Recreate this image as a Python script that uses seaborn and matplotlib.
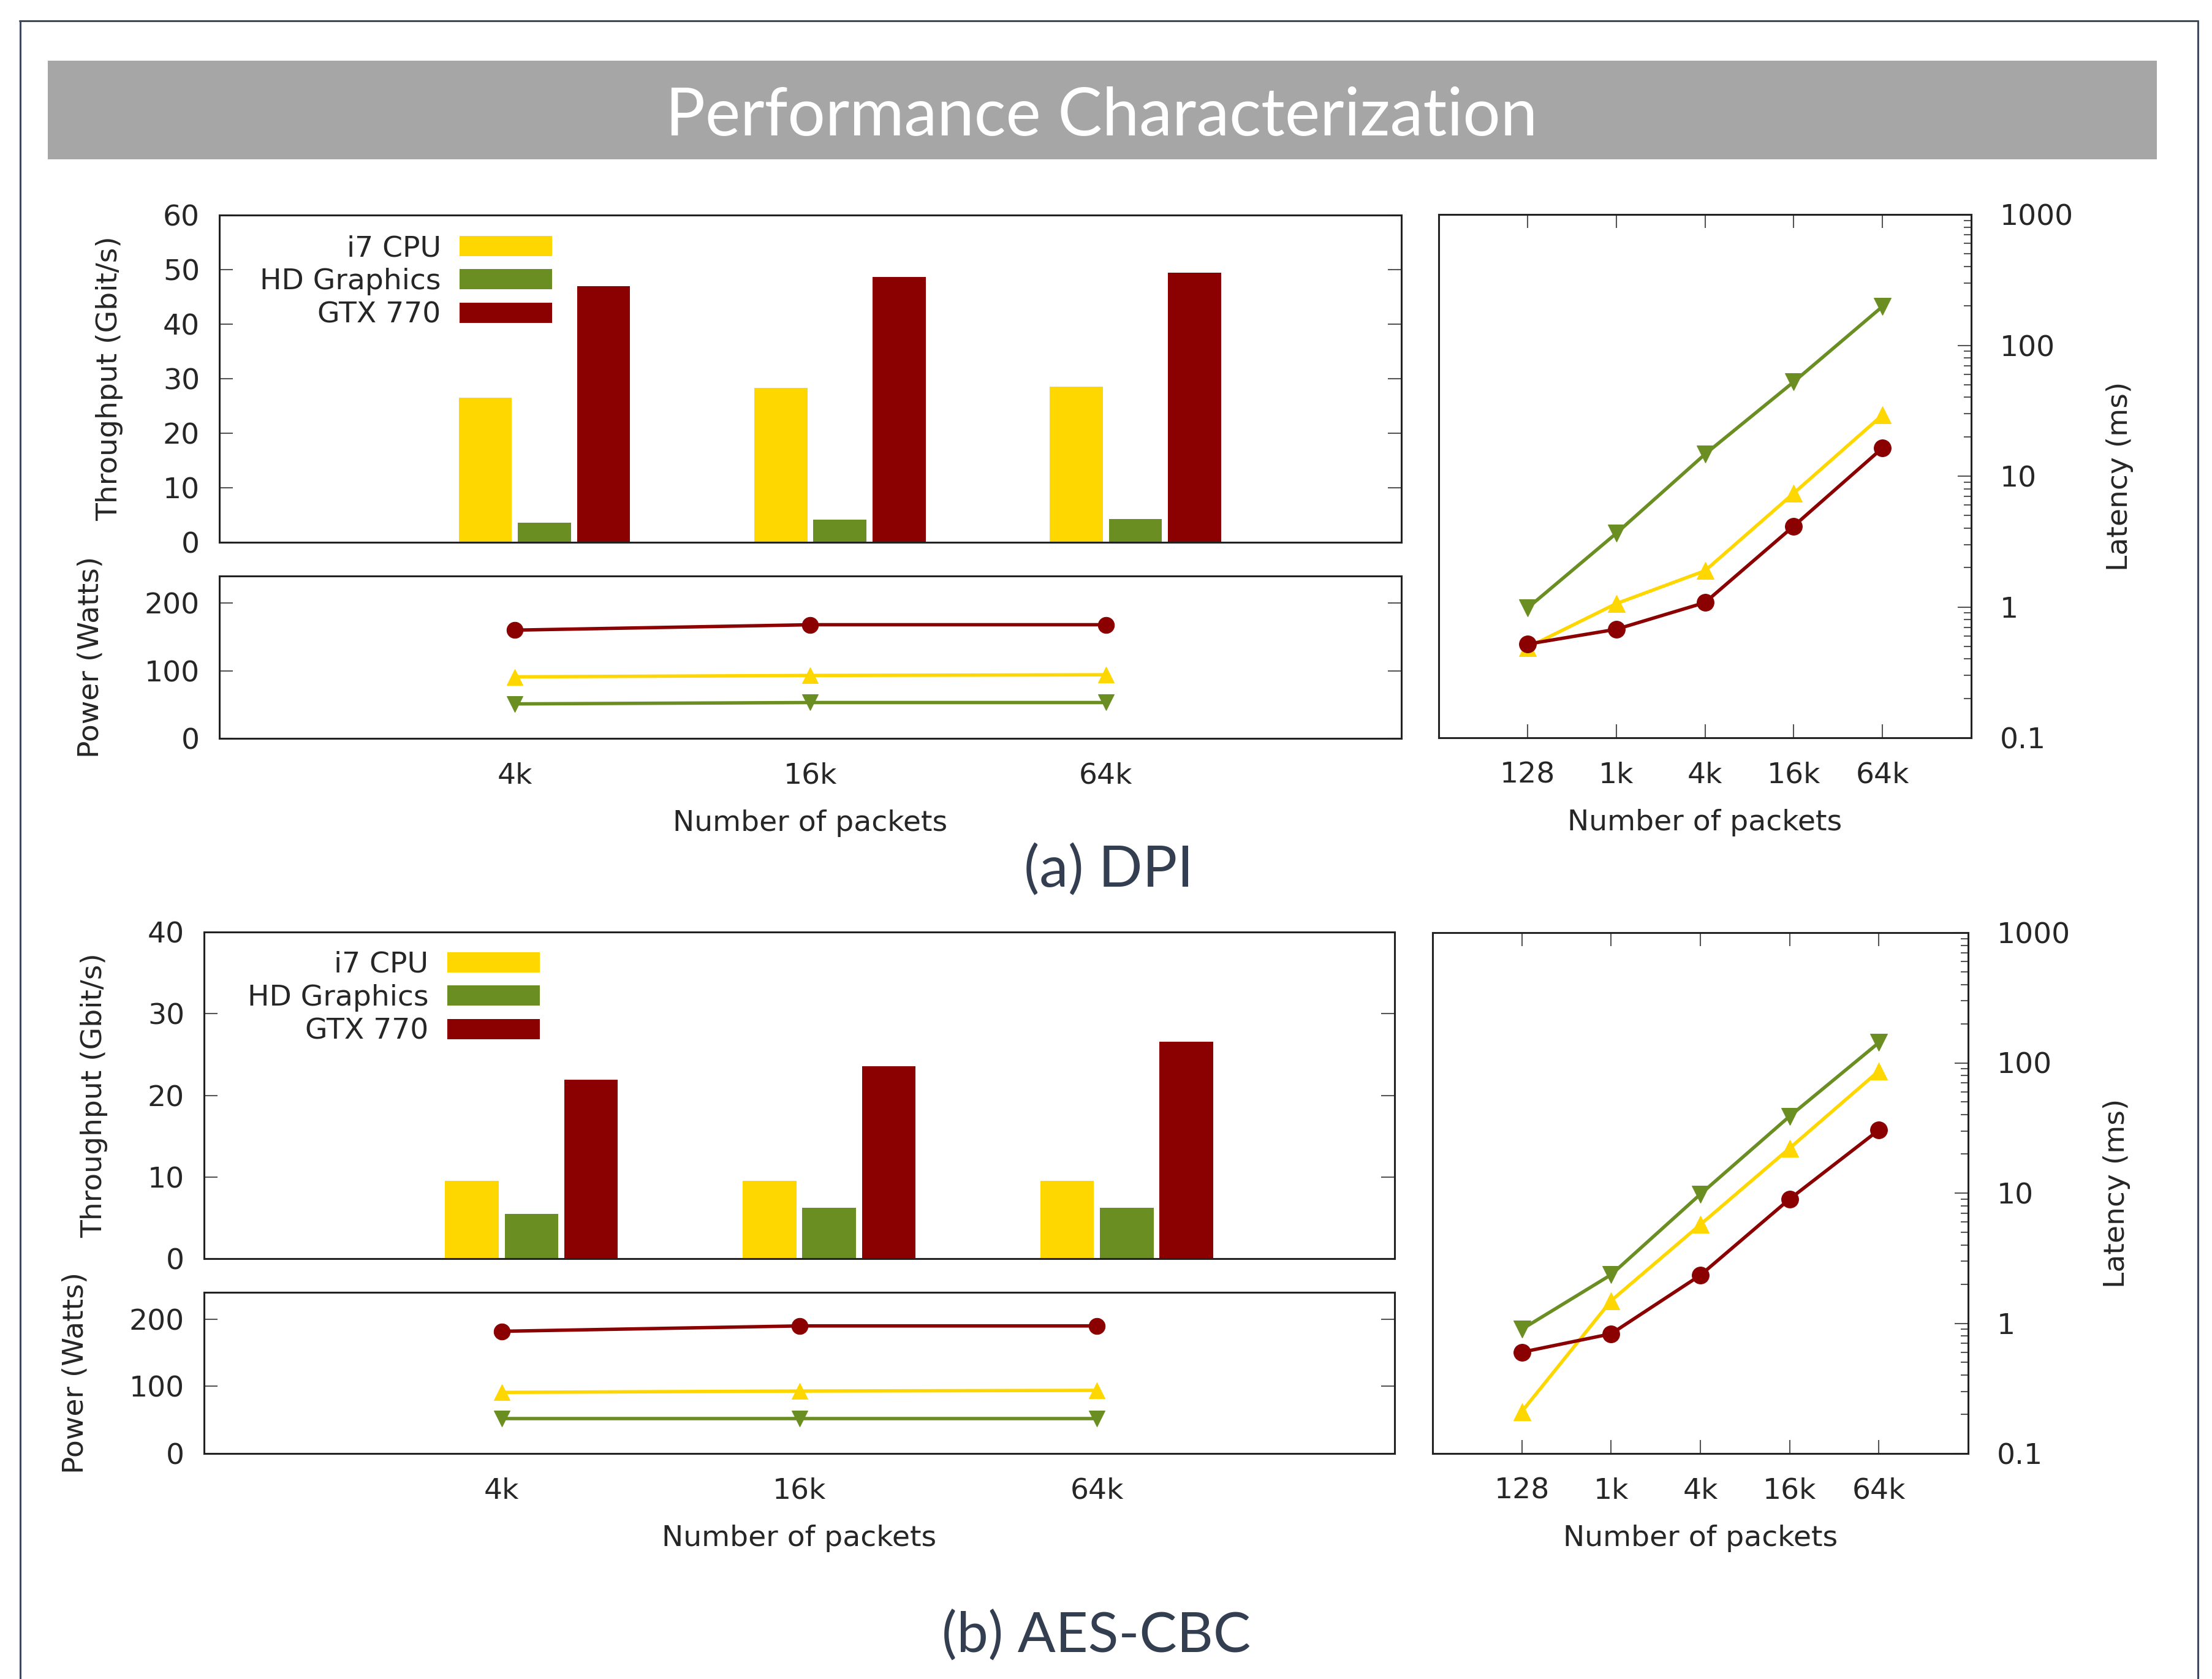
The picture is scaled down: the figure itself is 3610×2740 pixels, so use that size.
import numpy as np
import pandas as pd
import matplotlib
matplotlib.use("Agg")
import matplotlib.pyplot as plt
import seaborn as sns
from matplotlib.patches import Rectangle
from matplotlib.lines import Line2D
from matplotlib.ticker import FixedLocator, FixedFormatter, LogLocator, NullFormatter

# ---------------------------------------------------
# DATA
# ---------------------------------------------------
devices = ["i7 CPU", "HD Graphics", "GTX 770"]
bar_sizes = ["4k", "16k", "64k"]
lat_sizes = ["128", "1k", "4k", "16k", "64k"]

# (a) DPI
dpi_thr_cpu = [26.5, 28.3, 28.5]
dpi_thr_hd = [3.6, 4.2, 4.3]
dpi_thr_gtx = [47.0, 48.7, 49.4]
dpi_pow_cpu = [91, 93, 94]
dpi_pow_hd = [51, 53, 53]
dpi_pow_gtx = [160, 168, 168]
dpi_lat_cpu = [0.49, 1.06, 1.89, 7.4, 29.3]
dpi_lat_hd = [0.98, 3.65, 14.7, 52.5, 198]
dpi_lat_gtx = [0.52, 0.675, 1.08, 4.15, 16.4]

# (b) AES-CBC
aes_thr_cpu = [9.5, 9.5, 9.5]
aes_thr_hd = [5.5, 6.2, 6.2]
aes_thr_gtx = [21.9, 23.6, 26.6]
aes_pow_cpu = [91, 93, 94]
aes_pow_hd = [52, 52, 52]
aes_pow_gtx = [182, 190, 190]
aes_lat_cpu = [0.21, 1.49, 5.73, 22.1, 86.7]
aes_lat_hd = [0.90, 2.36, 9.8, 38.9, 143]
aes_lat_gtx = [0.60, 0.83, 2.34, 9.0, 30.5]

colors = {"i7 CPU": "#FFD700", "HD Graphics": "#6B8E23", "GTX 770": "#8B0000"}
markers = {"i7 CPU": "^", "HD Graphics": "v", "GTX 770": "o"}

# ---------------------------------------------------
# STYLE
# ---------------------------------------------------
sns.set_style("white")
plt.rcParams["font.family"] = ["DejaVu Sans"]
FS = 34
SPINE = "#222222"
TICKC = "#555555"

W, H = 3610, 2740
fig = plt.figure(figsize=(W / 100, H / 100), dpi=100)


def box(x0, y0, x1, y1):
    # pixel box (top-left origin) -> figure fraction rect
    return [x0 / W, 1 - y1 / H, (x1 - x0) / W, (y1 - y0) / H]


def style_spines(ax):
    for s in ax.spines.values():
        s.set_visible(True)
        s.set_color(SPINE)
        s.set_linewidth(2.2)


def draw_panel(thr_box, pow_box, lat_box, thr, pw, lat, ymax, leg_anchor):
    # ---- throughput bars
    ax = fig.add_axes(box(*thr_box))
    df = pd.DataFrame({
        "size": bar_sizes * 3,
        "device": np.repeat(devices, 3),
        "thr": thr[0] + thr[1] + thr[2],
    })
    sns.barplot(data=df, x="size", y="thr", hue="device", hue_order=devices,
                palette=colors, saturation=1, width=0.6, gap=0.1, linewidth=0, ax=ax)
    ax.set_xlim(-1.1, 2.9)
    ax.set_ylim(0, ymax)
    ax.set_yticks(np.arange(0, ymax + 1, 10))
    ax.set_xticks([])
    ax.set_xlabel("")
    ax.set_ylabel("Throughput (Gbit/s)", fontsize=FS, labelpad=47)
    ax.tick_params(axis="y", which="major", direction="in", left=True, right=True,
                   length=16, width=1.5, color=TICKC, labelsize=FS, pad=23)
    style_spines(ax)
    handles, labels = ax.get_legend_handles_labels()
    ax.legend(handles, labels, loc="upper right", bbox_to_anchor=leg_anchor,
              frameon=False, markerfirst=False, fontsize=FS, handlelength=3.2,
              handleheight=0.7, handletextpad=0.64, labelspacing=0.2,
              borderpad=0, borderaxespad=0)

    # ---- power lines
    axp = fig.add_axes(box(*pow_box))
    for dev, vals in zip(devices, pw):
        sns.lineplot(x=bar_sizes, y=vals, color=colors[dev], marker=markers[dev],
                     markersize=19, markeredgecolor=colors[dev], linewidth=4,
                     ax=axp)
    axp.set_xlim(-1, 3)
    axp.set_ylim(0, 240)
    axp.set_yticks([0, 100, 200])
    axp.set_ylabel("Power (Watts)", fontsize=FS, labelpad=47)
    axp.set_xlabel("Number of packets", fontsize=FS, labelpad=23)
    axp.tick_params(axis="y", direction="in", left=True, right=True, length=16,
                    width=1.5, color=TICKC, labelsize=FS, pad=23)
    axp.tick_params(axis="x", length=0, labelsize=FS, pad=28)
    style_spines(axp)

    # ---- latency lines
    axl = fig.add_axes(box(*lat_box))
    axl.set_yscale("log")
    order = [1, 0, 2]
    for i in order:
        dev = devices[i]
        sns.lineplot(x=lat_sizes, y=lat[i], color=colors[dev], marker=markers[dev],
                     markersize=20, markeredgecolor=colors[dev], linewidth=4,
                     ax=axl)
    axl.set_xlim(-1, 5)
    axl.set_ylim(0.1, 1000)
    axl.yaxis.set_major_locator(FixedLocator([0.1, 1, 10, 100, 1000]))
    axl.yaxis.set_major_formatter(FixedFormatter(["0.1", "1", "10", "100", "1000"]))
    axl.yaxis.set_minor_locator(LogLocator(base=10, subs=np.arange(2, 10)))
    axl.yaxis.set_minor_formatter(NullFormatter())
    axl.yaxis.tick_right()
    axl.yaxis.set_label_position("right")
    axl.set_ylabel("Latency (ms)", fontsize=FS, labelpad=38)
    axl.set_xlabel("Number of packets", fontsize=FS, labelpad=23)
    axl.tick_params(axis="y", which="major", direction="in", left=False, right=True,
                    length=16, width=1.5, color=TICKC, labelsize=FS, pad=34)
    axl.tick_params(axis="y", which="minor", direction="in", left=False, right=True,
                    length=9, width=1.5, color=TICKC)
    axl.tick_params(axis="x", direction="in", top=True, bottom=True, length=16,
                    width=1.5, color=TICKC, labelsize=FS, pad=28)
    style_spines(axl)


draw_panel((358, 351, 2287, 885), (358, 940, 2287, 1205), (2348, 350, 3217, 1204),
           [dpi_thr_cpu, dpi_thr_hd, dpi_thr_gtx],
           [dpi_pow_cpu, dpi_pow_hd, dpi_pow_gtx],
           [dpi_lat_cpu, dpi_lat_hd, dpi_lat_gtx],
           60, (0.2815, 0.94))

draw_panel((333, 1521, 2276, 2054), (333, 2109, 2276, 2372), (2338, 1522, 3212, 2372),
           [aes_thr_cpu, aes_thr_hd, aes_thr_gtx],
           [aes_pow_cpu, aes_pow_hd, aes_pow_gtx],
           [aes_lat_cpu, aes_lat_hd, aes_lat_gtx],
           40, (0.282, 0.942))

# ---------------------------------------------------
# SLIDE DECORATION: frame, banner, captions
# ---------------------------------------------------
frame_c = "#3e4a5b"
fig.add_artist(Line2D([32 / W, 3587 / W], [1 - 34 / H, 1 - 34 / H], color=frame_c, lw=2.2))
fig.add_artist(Line2D([33 / W, 33 / W], [1 - 34 / H, 0], color=frame_c, lw=2.2))
fig.add_artist(Line2D([3587 / W, 3587 / W], [1 - 34 / H, 0], color=frame_c, lw=2.2))

fig.add_artist(Rectangle((78 / W, 1 - 260 / H), (3520 - 78) / W, (260 - 99) / H,
                         transform=fig.transFigure, facecolor="#a6a6a6",
                         edgecolor="none", zorder=0))
fig.text(1798 / W, 1 - 190 / H, "Performance Characterization", color="white",
         fontsize=78, family=["Lato", "DejaVu Sans"],
         ha="center", va="center")

fig.text(1809 / W, 1 - 1420 / H, "(a) DPI", color="#333f50", fontsize=68,
         family=["Lato", "DejaVu Sans"], ha="center", va="center")
fig.text(1789 / W, 1 - 2670 / H, "(b) AES-CBC", color="#333f50", fontsize=66,
         family=["Lato", "DejaVu Sans"], ha="center", va="center")

fig.savefig("out.png", dpi=100, facecolor="white")
